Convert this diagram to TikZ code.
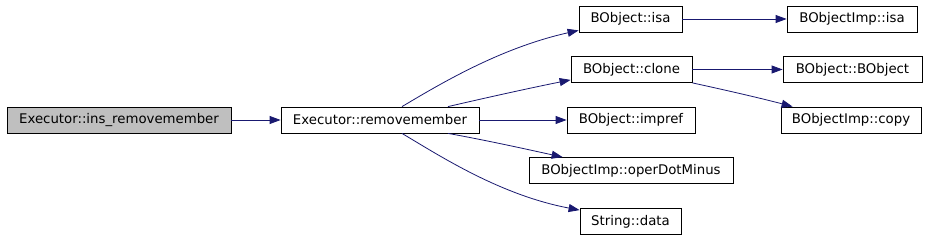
\documentclass[tikz,border=0pt]{standalone}
\usepackage{fontspec}
\setmainfont{DejaVu Sans}
\usetikzlibrary{arrows.meta}
\definecolor{edgeblue}{HTML}{191970}
\definecolor{focusgrey}{HTML}{BFBFBF}

\begin{document}
\begin{tikzpicture}[x=1pt,y=-1pt,
  box/.style={draw,line width=0.8pt,inner sep=0pt,minimum height=26pt,
    font=\fontsize{13.3}{15}\selectfont},
  call/.style={draw=edgeblue,line width=0.8pt,
    -{Triangle[length=11pt,width=8pt]}}]
  \useasboundingbox (0,0) rectangle (928,240);

  % caller and the function itself
  \node[box,fill=focusgrey,minimum width=224pt] (ins) at (119,120) {Executor::ins\_removemember};
  \node[box,minimum width=198pt] (rm) at (380,120) {Executor::removemember};

  % direct callees
  \node[box,minimum width=103pt] (isa) at (630.5,19) {BObject::isa};
  \node[box,minimum width=121pt] (clone) at (631.5,69.5) {BObject::clone};
  \node[box,minimum width=128pt] (impref) at (631,120) {BObject::impref};
  \node[box,minimum width=204pt] (dotminus) at (631,170.5) {BObjectImp::operDotMinus};
  \node[box,minimum width=101pt] (data) at (630.5,221.5) {String::data};

  % second level
  \node[box,minimum width=130pt] (impisa) at (852,19) {BObjectImp::isa};
  \node[box,minimum width=139pt] (ctor) at (852.5,69.5) {BObject::BObject};
  \node[box,minimum width=140pt] (copy) at (851,120) {BObjectImp::copy};

  \draw[call] (ins) -- (rm);
  \draw[call] ([xshift=22pt]rm.north) .. controls (440,84) and (500,48) .. ([yshift=2pt]isa.south west);
  \draw[call] ([xshift=68pt]rm.north) .. controls (485,98) and (530,88) .. ([yshift=3pt]clone.south west);
  \draw[call] (rm) -- (impref);
  \draw[call] ([xshift=68pt]rm.south) .. controls (490,141) and (530,150) .. ([xshift=34pt]dotminus.north west);
  \draw[call] ([xshift=22pt]rm.south) .. controls (440,156) and (500,195) .. ([yshift=-2pt]data.north west);
  \draw[call] (isa) -- (impisa);
  \draw[call] (clone) -- (ctor);
  \draw[call] (clone.south east) .. controls (725,90) and (760,98) .. ([xshift=12pt]copy.north west);
\end{tikzpicture}
\end{document}
